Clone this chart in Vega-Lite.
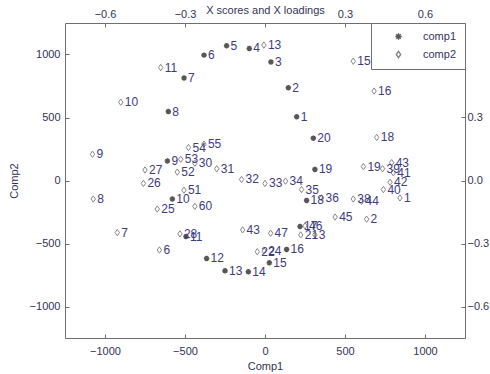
{
  "$schema": "https://vega.github.io/schema/vega-lite/v6.json",
  "width": 400,
  "height": 315,
  "autosize": "none",
  "padding": {"left": 65, "top": 23, "right": 25, "bottom": 36},
  "background": "white",
  "config": {
    "view": {"stroke": null},
    "axis": {"grid": false, "domainColor": "#6e6e6e", "tickColor": "#6e6e6e", "labelFont": "Liberation Sans", "labelFontSize": 11, "labelColor": "#333355", "titleFont": "Liberation Sans", "titleFontSize": 11, "titleFontWeight": "normal", "titleColor": "#333355", "tickSize": -4, "labelFlush": false, "labelOverlap": false},
    "legend": {"labelFont": "Liberation Sans"}
  },
  "datasets": {
    "scores": [
      {"id": "1", "x": 198, "y": 506, "series": "comp1"},
      {"id": "2", "x": 146, "y": 736, "series": "comp1"},
      {"id": "3", "x": 37, "y": 941, "series": "comp1"},
      {"id": "4", "x": -98, "y": 1048, "series": "comp1"},
      {"id": "5", "x": -240, "y": 1070, "series": "comp1"},
      {"id": "6", "x": -381, "y": 995, "series": "comp1"},
      {"id": "7", "x": -506, "y": 813, "series": "comp1"},
      {"id": "8", "x": -604, "y": 547, "series": "comp1"},
      {"id": "9", "x": -610, "y": 155, "series": "comp1"},
      {"id": "10", "x": -579, "y": -147, "series": "comp1"},
      {"id": "11", "x": -494, "y": -445, "series": "comp1"},
      {"id": "12", "x": -365, "y": -619, "series": "comp1"},
      {"id": "13", "x": -250, "y": -717, "series": "comp1"},
      {"id": "14", "x": -104, "y": -725, "series": "comp1"},
      {"id": "15", "x": 27, "y": -653, "series": "comp1"},
      {"id": "16", "x": 135, "y": -547, "series": "comp1"},
      {"id": "17", "x": 219, "y": -365, "series": "comp1"},
      {"id": "18", "x": 260, "y": -158, "series": "comp1"},
      {"id": "19", "x": 312, "y": 88, "series": "comp1"},
      {"id": "20", "x": 302, "y": 336, "series": "comp1"}
    ],
    "loadings": [
      {"id": "13", "x": -0.004, "y": 0.645, "series": "comp2"},
      {"id": "15", "x": 0.331, "y": 0.568, "series": "comp2"},
      {"id": "16", "x": 0.409, "y": 0.426, "series": "comp2"},
      {"id": "18", "x": 0.419, "y": 0.205, "series": "comp2"},
      {"id": "11", "x": -0.391, "y": 0.538, "series": "comp2"},
      {"id": "10", "x": -0.541, "y": 0.373, "series": "comp2"},
      {"id": "9", "x": -0.647, "y": 0.125, "series": "comp2"},
      {"id": "8", "x": -0.644, "y": -0.088, "series": "comp2"},
      {"id": "7", "x": -0.554, "y": -0.248, "series": "comp2"},
      {"id": "6", "x": -0.396, "y": -0.331, "series": "comp2"},
      {"id": "27", "x": -0.45, "y": 0.05, "series": "comp2"},
      {"id": "26", "x": -0.456, "y": -0.014, "series": "comp2"},
      {"id": "25", "x": -0.404, "y": -0.136, "series": "comp2"},
      {"id": "51", "x": -0.304, "y": -0.046, "series": "comp2"},
      {"id": "60", "x": -0.263, "y": -0.123, "series": "comp2"},
      {"id": "52", "x": -0.329, "y": 0.04, "series": "comp2"},
      {"id": "53", "x": -0.316, "y": 0.101, "series": "comp2"},
      {"id": "54", "x": -0.287, "y": 0.157, "series": "comp2"},
      {"id": "55", "x": -0.229, "y": 0.173, "series": "comp2"},
      {"id": "30", "x": -0.263, "y": 0.082, "series": "comp2"},
      {"id": "31", "x": -0.181, "y": 0.056, "series": "comp2"},
      {"id": "32", "x": -0.088, "y": 0.005, "series": "comp2"},
      {"id": "43", "x": -0.084, "y": -0.235, "series": "comp2"},
      {"id": "28", "x": -0.319, "y": -0.254, "series": "comp2"},
      {"id": "33", "x": 0.0, "y": -0.014, "series": "comp2"},
      {"id": "34", "x": 0.077, "y": -0.003, "series": "comp2"},
      {"id": "35", "x": 0.137, "y": -0.043, "series": "comp2"},
      {"id": "36", "x": 0.212, "y": -0.083, "series": "comp2"},
      {"id": "38", "x": 0.331, "y": -0.088, "series": "comp2"},
      {"id": "44", "x": 0.362, "y": -0.099, "series": "comp2"},
      {"id": "2", "x": 0.381, "y": -0.184, "series": "comp2"},
      {"id": "45", "x": 0.263, "y": -0.174, "series": "comp2"},
      {"id": "19", "x": 0.369, "y": 0.066, "series": "comp2"},
      {"id": "39", "x": 0.441, "y": 0.056, "series": "comp2"},
      {"id": "43", "x": 0.475, "y": 0.085, "series": "comp2"},
      {"id": "41", "x": 0.481, "y": 0.037, "series": "comp2"},
      {"id": "42", "x": 0.469, "y": -0.008, "series": "comp2"},
      {"id": "40", "x": 0.444, "y": -0.043, "series": "comp2"},
      {"id": "1", "x": 0.506, "y": -0.083, "series": "comp2"},
      {"id": "47", "x": 0.021, "y": -0.251, "series": "comp2"},
      {"id": "46", "x": 0.15, "y": -0.216, "series": "comp2"},
      {"id": "21", "x": 0.134, "y": -0.259, "series": "comp2"},
      {"id": "3", "x": 0.187, "y": -0.259, "series": "comp2"},
      {"id": "22", "x": -0.029, "y": -0.339, "series": "comp2"},
      {"id": "24", "x": -0.003, "y": -0.336, "series": "comp2"}
    ]
  },
  "layer": [
    {
      "data": {"name": "scores"},
      "encoding": {
        "x": {"field": "x", "type": "quantitative", "scale": {"domain": [-1250, 1250], "nice": false, "zero": false},
              "axis": {"orient": "bottom", "title": "Comp1", "format": "d", "values": [-1000, -500, 0, 500, 1000], "labelPadding": 11, "titlePadding": 4}},
        "y": {"field": "y", "type": "quantitative", "scale": {"domain": [-1250, 1250], "nice": false, "zero": false},
              "axis": {"orient": "left", "title": "Comp2", "format": "d", "values": [-1000, -500, 0, 500, 1000], "labelPadding": 9, "titlePadding": 10}}
      },
      "layer": [
        {
          "mark": {"type": "point", "filled": false, "strokeWidth": 1.6},
          "encoding": {
            "shape": {"field": "series", "type": "nominal", "scale": {"domain": ["comp1", "comp2"], "range": ["M-1,0L1,0M0,-1L0,1M-0.7,-0.7L0.7,0.7M-0.7,0.7L0.7,-0.7", "M0,-1L0.7,0L0,1L-0.7,0Z"]},
              "legend": {"orient": "top-right", "offset": 0, "title": null, "padding": 8, "strokeColor": "#6e6e6e", "fillColor": "white", "symbolOffset": 14, "labelOffset": 19, "labelFontSize": 11, "labelColor": "#333366", "rowPadding": 5, "symbolSize": 40, "symbolStrokeWidth": 1.4}},
            "color": {"field": "series", "type": "nominal", "scale": {"domain": ["comp1", "comp2"], "range": ["#111111", "#555555"]}},
            "size": {"value": 30}
          }
        },
        {
          "mark": {"type": "text", "align": "left", "baseline": "middle", "dx": 4, "font": "Liberation Sans", "fontSize": 12, "color": "#3d3a80"},
          "encoding": {"text": {"field": "id", "type": "nominal"}}
        }
      ]
    },
    {
      "data": {"name": "loadings"},
      "encoding": {
        "x": {"field": "x", "type": "quantitative", "scale": {"domain": [-0.75, 0.75], "nice": false, "zero": false},
              "axis": {"orient": "top", "title": "X scores and X loadings", "titleY": -10, "titleBaseline": "alphabetic", "values": [-0.6, -0.3, 0, 0.3, 0.6], "labelExpr": "datum.value == 0 ? '' : format(datum.value, '.1f')", "labelPadding": 8}},
        "y": {"field": "y", "type": "quantitative", "scale": {"domain": [-0.75, 0.75], "nice": false, "zero": false},
              "axis": {"orient": "right", "title": null, "values": [-0.6, -0.3, 0, 0.3, 0.6], "labelExpr": "datum.value == 0.6 ? '' : format(datum.value, '.1f')", "labelPadding": 6}}
      },
      "layer": [
        {
          "mark": {"type": "point", "filled": false, "strokeWidth": 1},
          "encoding": {
            "shape": {"field": "series", "type": "nominal"},
            "color": {"field": "series", "type": "nominal"},
            "size": {"value": 40}
          }
        },
        {
          "mark": {"type": "text", "align": "left", "baseline": "middle", "dx": 4, "font": "Liberation Sans", "fontSize": 12, "color": "#3d3a80"},
          "encoding": {"text": {"field": "id", "type": "nominal"}}
        }
      ]
    }
  ],
  "resolve": {"scale": {"x": "independent", "y": "independent"}, "axis": {"x": "independent", "y": "independent"}}
}
